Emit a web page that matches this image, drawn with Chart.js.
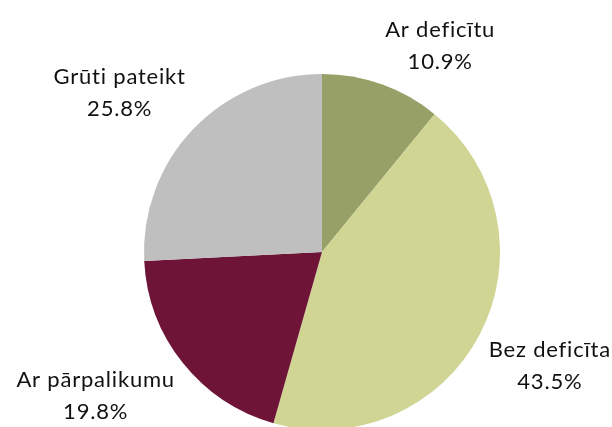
<!DOCTYPE html>
<html>
<head>
<meta charset="utf-8">
<script src="https://cdn.jsdelivr.net/npm/chart.js@4/dist/chart.umd.min.js"></script>
<style>
  html, body { margin: 0; padding: 0; background: #fff; }
  #wrap { width: 612px; height: 427px; overflow: hidden; position: relative; }
</style>
</head>
<body>
<div id="wrap">
  <canvas id="pieChart" width="612" height="460"></canvas>
</div>
<script>
const categories = ['Ar deficītu', 'Bez deficīta', 'Ar pārpalikumu', 'Grūti pateikt'];
const shares = [10.9, 43.5, 19.8, 25.8];
const sliceColors = ['#96a067', '#d0d594', '#6d1437', '#bfbfbf'];

// labels sit just outside each slice, anchored by the box corner nearest the pie
const outsideLabels = {
    id: 'outsideLabels',
    afterDatasetsDraw(chart) {
        const ctx = chart.ctx;
        const meta = chart.getDatasetMeta(0);
        const fontSize = 22;
        const lineGap = 32;
        const pad = 10;
        ctx.save();
        ctx.font = fontSize + 'px Lato, "Open Sans", sans-serif';
        ctx.letterSpacing = '0.8px';
        ctx.fillStyle = '#111';
        ctx.textAlign = 'center';
        ctx.textBaseline = 'alphabetic';
        meta.data.forEach((arc, i) => {
            const p = arc.getProps(['x', 'y', 'startAngle', 'endAngle', 'outerRadius'], true);
            const mid = (p.startAngle + p.endAngle) / 2;
            const ax = p.x + Math.cos(mid) * (p.outerRadius + pad);
            const ay = p.y + Math.sin(mid) * (p.outerRadius + pad);
            const lines = [categories[i], shares[i].toFixed(1) + '%'];
            const w = Math.max(...lines.map(t => ctx.measureText(t).width));
            const cx = Math.cos(mid) >= 0 ? ax + w / 2 : ax - w / 2;
            let firstBase;
            if (Math.sin(mid) < 0) {
                firstBase = ay - 6 - lineGap;
            } else {
                firstBase = ay + fontSize - 4;
            }
            lines.forEach((t, k) => ctx.fillText(t, cx, firstBase + k * lineGap));
        });
        ctx.restore();
    }
};

new Chart(document.getElementById('pieChart'), {
    type: 'pie',
    data: {
        labels: categories,
        datasets: [{
            data: shares,
            backgroundColor: sliceColors,
            borderWidth: 0
        }]
    },
    options: {
        responsive: false,
        animation: false,
        layout: {
            padding: { top: 74, bottom: 30, left: 144, right: 112 }
        },
        plugins: {
            legend: { display: false },
            tooltip: { enabled: false }
        }
    },
    plugins: [outsideLabels]
});
</script>
</body>
</html>
